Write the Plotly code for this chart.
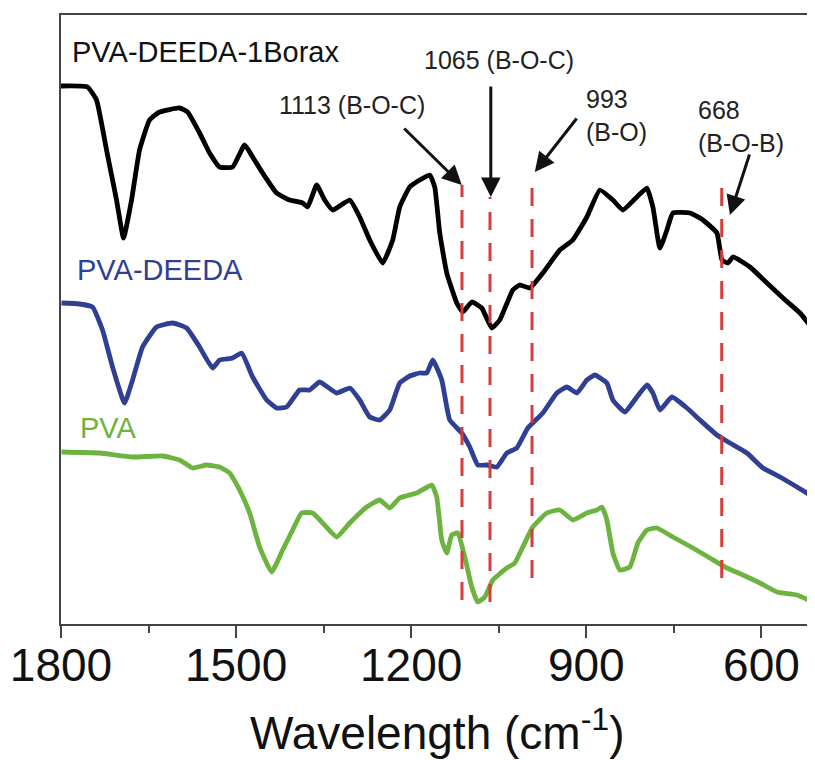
import plotly.graph_objects as go

# ---- axis geometry helpers (pixel readings -> data) ----
# x pixel -> wavenumber: 1800 at px 61.5, 0.5833 px per cm-1
def wn(px):
    return 1800 - (px - 61.5) / 0.5833

def yy(py):
    return 624 - py

# ---- data (pixel coords of traced points) ----
borax_px = [61, 88, 97, 107, 117, 124, 132, 140, 150, 160, 180, 188, 200, 210, 220, 233, 245, 253, 263,
            277, 290, 303, 308, 317, 325, 333, 350, 360, 370, 383, 393, 400, 410, 420, 430, 435, 440, 447,
            457, 463, 472, 482, 492, 500, 513, 520, 530, 543, 560, 573, 587, 600, 613, 623, 637, 647, 653,
            660, 667, 673, 690, 703, 717, 722, 728, 733, 750, 767, 783, 800, 815]
borax_py = [86, 87, 100, 150, 200, 238, 200, 150, 120, 112, 108, 112, 133, 153, 167, 167, 145, 157, 173,
            193, 200, 203, 207, 185, 200, 210, 200, 217, 240, 263, 240, 207, 187, 180, 175, 187, 233, 273,
            303, 312, 302, 308, 328, 320, 290, 285, 288, 273, 250, 240, 217, 190, 200, 210, 197, 188, 207,
            248, 230, 213, 213, 220, 233, 260, 263, 257, 267, 283, 298, 313, 332]

deeda_px = [62, 80, 93, 103, 113, 125, 133, 143, 157, 173, 187, 200, 213, 220, 233, 242, 253, 267, 277,
            287, 300, 310, 320, 337, 350, 360, 370, 380, 390, 400, 410, 420, 427, 433, 442, 450, 462, 470,
            478, 487, 497, 507, 517, 528, 543, 557, 567, 577, 587, 595, 607, 613, 625, 637, 647, 653, 660,
            672, 687, 700, 717, 730, 747, 763, 780, 797, 815]
deeda_py = [303, 304, 307, 330, 367, 403, 380, 347, 327, 323, 328, 347, 368, 360, 358, 353, 377, 400, 408,
            407, 390, 390, 382, 393, 388, 400, 417, 420, 410, 383, 376, 373, 373, 360, 380, 420, 433, 447,
            465, 465, 467, 453, 448, 428, 413, 393, 387, 393, 380, 375, 383, 400, 412, 397, 385, 393, 410,
            397, 408, 420, 435, 443, 453, 468, 477, 487, 498]

pva_px = [62, 100, 133, 163, 180, 193, 207, 220, 230, 240, 250, 260, 272, 283, 293, 302, 313, 323, 337,
          350, 367, 380, 390, 400, 417, 432, 437, 442, 447, 452, 458, 465, 472, 478, 485, 493, 507, 515,
          523, 533, 547, 560, 573, 587, 597, 602, 607, 613, 620, 630, 638, 647, 657, 673, 693, 710, 727,
          743, 760, 777, 797, 815]
pva_py = [452, 453, 457, 456, 460, 468, 465, 467, 473, 490, 513, 547, 572, 550, 530, 513, 513, 523, 537,
          523, 507, 500, 508, 498, 493, 485, 497, 540, 553, 535, 533, 557, 587, 602, 597, 580, 568, 563,
          547, 527, 513, 510, 520, 513, 510, 507, 520, 553, 570, 567, 543, 530, 528, 537, 548, 558, 568,
          575, 583, 592, 595, 603]

series_names = ["PVA-DEEDA-1Borax", "PVA-DEEDA", "PVA"]
series_colors = ["#000000", "#2f3f94", "#6db33f"]

peak_wn = [1113, 1065, 993, 668]
peak_top_py = [185, 197, 175, 178]
peak_bot_py = [600, 602, 578, 578]

tick_vals = [1800, 1500, 1200, 900, 600]
minor_vals = [1650, 1350, 1050, 750]

fig = go.Figure()
for name, px, py, col in zip(series_names, [borax_px, deeda_px, pva_px],
                             [borax_py, deeda_py, pva_py], series_colors):
    fig.add_trace(go.Scatter(x=[wn(p) for p in px], y=[yy(p) for p in py], mode="lines",
                             line=dict(color=col, width=4.8, shape="spline", smoothing=0.4),
                             name=name, showlegend=False, hoverinfo="skip"))

# dashed red marker lines
for w, t, b in zip(peak_wn, peak_top_py, peak_bot_py):
    fig.add_shape(type="line", x0=w, x1=w, y0=yy(b), y1=yy(t), xref="x", yref="y",
                  line=dict(color="#d93a3a", width=3, dash="18px,13px"))

font_family = "Liberation Sans, Arial, sans-serif"

# series labels
labels = [("PVA-DEEDA-1Borax", 70, 52, "#111111"), ("PVA-DEEDA", 75, 270, "#2f3f94"), ("PVA", 78, 428, "#6db33f")]
for txt, px, py, col in labels:
    fig.add_annotation(x=wn(px), y=yy(py), text=txt, showarrow=False, xanchor="left", yanchor="middle",
                       font=dict(family=font_family, size=29, color=col))

# peak annotation texts
ann_texts = [("1113 (B-O-C)", 352, 105, "center"), ("1065 (B-O-C)", 499, 60, "center"),
             ("993<br>(B-O)", 584, 115, "left"), ("668<br>(B-O-B)", 696, 126, "left")]
for txt, px, py, anc in ann_texts:
    fig.add_annotation(x=wn(px), y=yy(py), text=txt, showarrow=False, xanchor=anc, yanchor="middle",
                       font=dict(family=font_family, size=25, color="#222222"), align="left")

# arrows (tail -> head, pixel readings)
arrows = [(403, 127, 462, 185), (491, 85, 491, 197), (578, 117, 535, 172), (750, 153, 730, 215)]
for tx, ty, hx, hy in arrows:
    fig.add_annotation(x=wn(hx), y=yy(hy), ax=wn(tx), ay=yy(ty), xref="x", yref="y", axref="x", ayref="y",
                       text="", showarrow=True, arrowhead=2, arrowsize=1.3, arrowwidth=3, arrowcolor="#111111")

# x-axis title as annotation (exact placement)
fig.add_annotation(xref="paper", yref="paper", x=(437 - 61) / 754, y=-(730 - 624) / 609,
                   text="Wavelength (cm<sup>-1</sup>)", showarrow=False, xanchor="center", yanchor="middle",
                   font=dict(family=font_family, size=46, color="#111111"))

# page body has an 8px margin: shift figure margins to compensate
fig.update_layout(
    width=815, height=760,
    margin=dict(l=53, r=8, t=7, b=144, autoexpand=False),
    paper_bgcolor="white", plot_bgcolor="white",
    font=dict(family=font_family, color="#111111"),
)
fig.update_xaxes(range=[1800, wn(815)], tickvals=tick_vals, ticks="outside", ticklen=12, tickwidth=1.5,
                 tickcolor="#444444", showline=True, linecolor="#444444", linewidth=1.5, mirror=True,
                 showgrid=False, zeroline=False, automargin=False, ticklabelstandoff=-12,
                 tickfont=dict(size=46, color="#111111", family=font_family),
                 minor=dict(tickvals=minor_vals, ticks="outside", ticklen=7, tickwidth=1.5,
                            tickcolor="#444444"))
fig.update_yaxes(range=[0, 609], showticklabels=False, ticks="", showgrid=False, zeroline=False,
                 showline=True, linecolor="#444444", linewidth=1.5, automargin=False)

fig.write_html("out.html")
